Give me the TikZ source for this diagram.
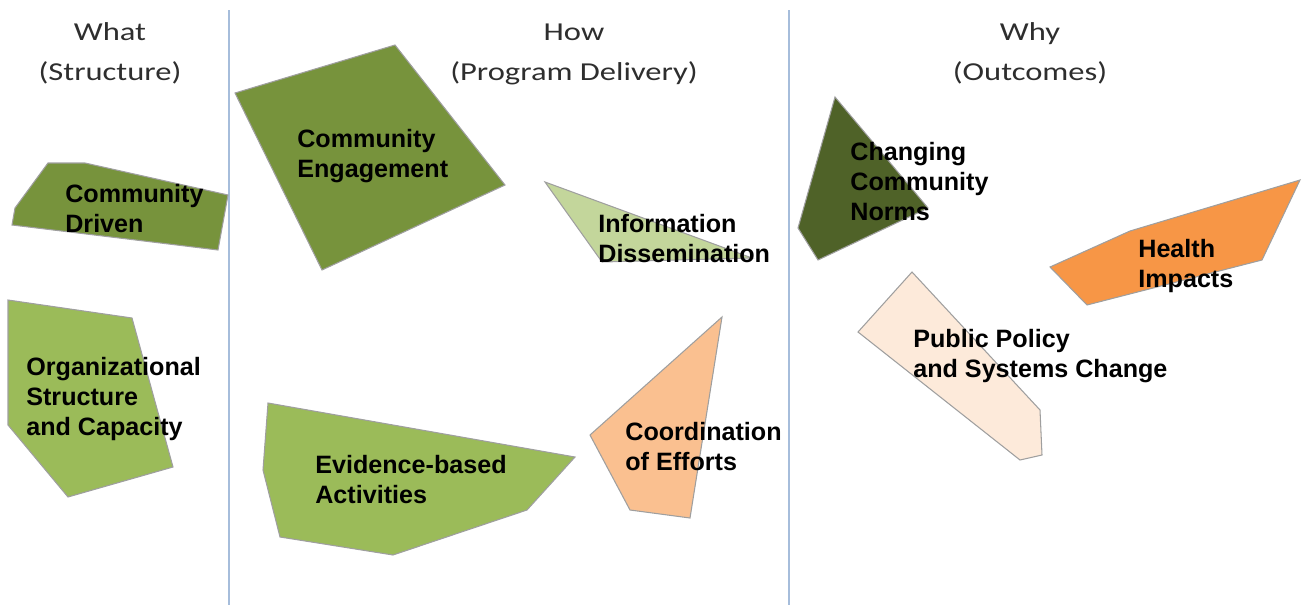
\documentclass[tikz,border=0pt]{standalone}
\usepackage{fontspec}
\setmainfont{Liberation Sans}
\newfontfamily\headfont[FakeStretch=1.26]{Carlito}
\usepackage{xcolor}
\definecolor{drivengreen}{HTML}{77933C}
\definecolor{midgreen}{HTML}{9BBB59}
\definecolor{palegreen}{HTML}{C3D69B}
\definecolor{darkgreen}{HTML}{4F6228}
\definecolor{lightorange}{HTML}{FAC090}
\definecolor{fullorange}{HTML}{F79646}
\definecolor{paleorange}{HTML}{FDEADA}
\definecolor{dividerblue}{HTML}{A6BDDB}

\begin{document}
\begin{tikzpicture}[x=0.02cm, y=-0.02cm] %Koordinaten in Pixeln, Basis = letzte Zeile
\tikzstyle{every node} = [inner sep=0pt]
\tikzstyle{area} = [draw=gray!75, line width=0.6pt]
\tikzstyle{areatext} = [anchor=base west, align=left, font=\fontsize{14.3}{17}\selectfont\bfseries]
\tikzstyle{headtext} = [anchor=base, align=center, text=black!82, font=\headfont\fontsize{14.7}{22.2}\selectfont]
\useasboundingbox (0,0) rectangle (1304,605);
\foreach \x in {229, 789}
\draw [dividerblue, line width=1.1pt] (\x,10) -- (\x,605);
% Kopfzeilen
\node [headtext] (what) at (110,80) {What\\(Structure)};
\node [headtext] (how) at (574,80) {How\\(Program Delivery)};
\node [headtext] (why) at (1030,80) {Why\\(Outcomes)};
% What
\filldraw [area, fill=drivengreen] (48,163) -- (85,163) -- (228,195) -- (218,250) -- (12,225) -- (15,208) -- cycle;
\node [areatext] (driven) at (65,232) {Community\\Driven};
\filldraw [area, fill=midgreen] (8,300) -- (132,318) -- (173,467) -- (68,497) -- (8,425) -- cycle;
\node [areatext] (capacity) at (26,435) {Organizational\\Structure\\and Capacity};
% How
\filldraw [area, fill=drivengreen] (235,93) -- (395,45) -- (505,185) -- (322,270) -- cycle;
\node [areatext] (engagement) at (297,177) {Community\\Engagement};
\filldraw [area, fill=palegreen] (545,182) -- (752,258) -- (602,262) -- cycle;
\node [areatext] (dissemination) at (598,262) {Information\\Dissemination};
\filldraw [area, fill=midgreen] (268,403) -- (575,457) -- (527,510) -- (393,555) -- (280,537) -- (263,470) -- cycle;
\node [areatext] (evidence) at (315,503) {Evidence-based\\Activities};
\filldraw [area, fill=lightorange] (722,317) -- (690,518) -- (630,510) -- (590,435) -- cycle;
\node [areatext] (coordination) at (625,470) {Coordination\\of Efforts};
% Why
\filldraw [area, fill=darkgreen] (835,97) -- (928,208) -- (818,260) -- (798,228) -- cycle;
\node [areatext] (norms) at (850,220) {Changing\\Community\\Norms};
\filldraw [area, fill=fullorange] (1050,267) -- (1130,231) -- (1300,180) -- (1262,260) -- (1087,305) -- cycle;
\node [areatext] (health) at (1138,287) {Health\\Impacts};
\filldraw [area, fill=paleorange] (912,272) -- (1040,410) -- (1042,455) -- (1020,460) -- (858,332) -- cycle;
\node [areatext] (policy) at (913,377) {Public Policy\\and Systems Change};
\end{tikzpicture}
\end{document}
